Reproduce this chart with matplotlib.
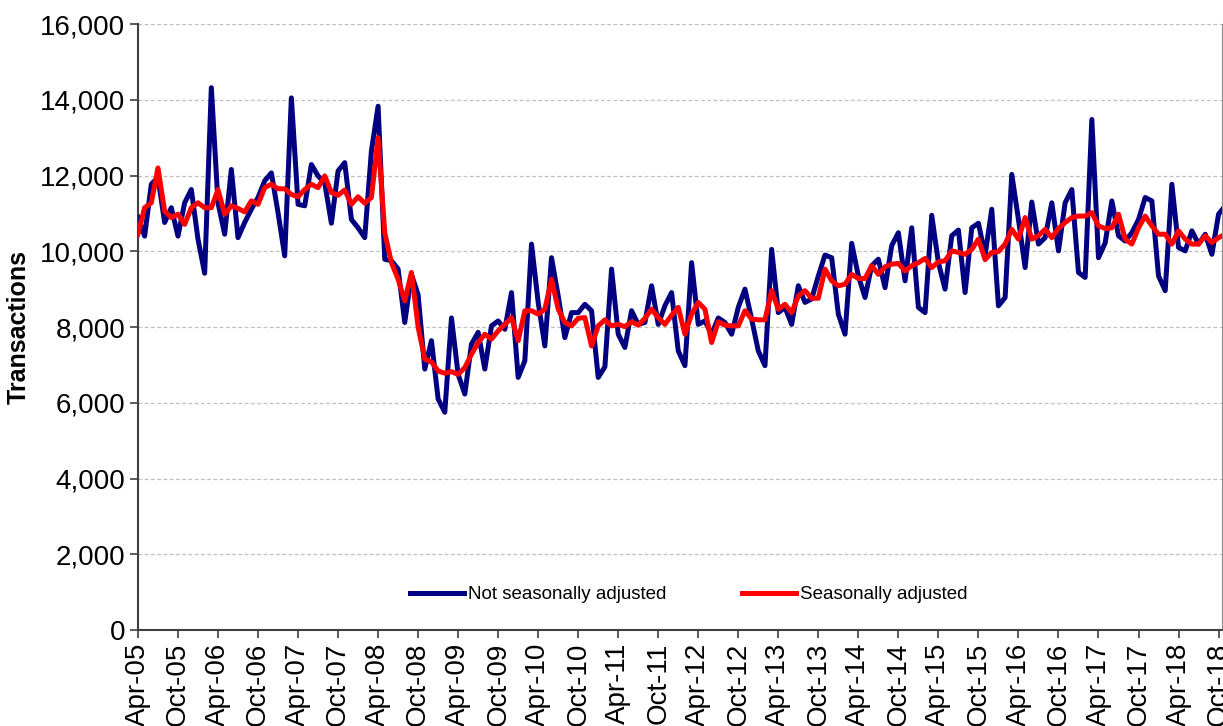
import matplotlib.pyplot as plt
import numpy as np

plt.rcParams['font.family'] = ['Liberation Sans', 'DejaVu Sans']

# monthly, Apr-05 onwards
not_sa = [10900, 10400, 11770, 11950, 10760, 11150, 10400, 11280, 11630, 10320,
          9420, 14320, 11280, 10450, 12160, 10360, 10760, 11110, 11420, 11860,
          12070, 11020, 9880, 14050, 11240, 11200, 12290, 11990, 11800, 10740,
          12120, 12340, 10840, 10620, 10360, 12650, 13830, 9790, 9750, 9530,
          8120, 9390, 8850, 6890, 7640, 6100, 5750, 8240, 6750, 6230,
          7550, 7860, 6890, 8030, 8160, 7940, 8910, 6670, 7110, 10190,
          8650, 7500, 9830, 8820, 7720, 8380, 8380, 8600, 8430, 6670,
          6950, 9530, 7810, 7460, 8430, 8070, 8120, 9090, 8070, 8560,
          8910, 7370, 6980, 9700, 8070, 8160, 7810, 8240, 8120, 7810,
          8520, 9000, 8210, 7370, 6980, 10050, 8380, 8520, 8070, 9090,
          8650, 8740, 9350, 9900, 9830, 8340, 7810, 10210, 9350, 8780,
          9620, 9790, 9040, 10150, 10490, 9220, 10620, 8520, 8380, 10950,
          9700, 9000, 10410, 10560, 8910, 10620, 10740, 9900, 11110, 8560,
          8780, 12030, 10840, 9570, 11300, 10190, 10360, 11280, 10010, 11280,
          11630, 9440, 9310, 13480, 9830, 10220, 11330, 10410, 10270, 10490,
          10840, 11420, 11330, 9350, 8960, 11770, 10100, 10010, 10540, 10190,
          10450, 9920, 10980, 11200]

sa = [10450, 11150, 11280, 12200, 11060, 10890, 10980, 10710, 11150, 11280,
      11150, 11150, 11630, 10980, 11200, 11130, 11040, 11330, 11240, 11680,
      11770, 11650, 11650, 11500, 11440, 11630, 11770, 11680, 11990, 11550,
      11480, 11620, 11240, 11440, 11270, 11420, 13000, 10490, 9700, 9260,
      8690, 9440, 8000, 7150, 7080, 6840, 6780, 6820, 6750, 6930,
      7280, 7590, 7810, 7680, 7900, 8070, 8250, 7640, 8430, 8430,
      8340, 8470, 9260, 8470, 8120, 8030, 8230, 8250, 7500, 8030,
      8190, 8030, 8070, 8010, 8140, 8050, 8230, 8470, 8250, 8070,
      8310, 8520, 7810, 8340, 8650, 8470, 7590, 8140, 8050, 8030,
      8030, 8430, 8210, 8190, 8190, 8960, 8470, 8600, 8380, 8820,
      8960, 8760, 8760, 9530, 9220, 9090, 9130, 9390, 9280, 9280,
      9620, 9390, 9590, 9660, 9680, 9480, 9620, 9700, 9810, 9570,
      9720, 9750, 10010, 9970, 9920, 10050, 10320, 9780, 9970, 9990,
      10190, 10580, 10320, 10890, 10320, 10410, 10580, 10360, 10600, 10760,
      10890, 10930, 10930, 11020, 10670, 10600, 10620, 10980, 10320, 10190,
      10620, 10930, 10670, 10450, 10450, 10190, 10540, 10320, 10190, 10190,
      10410, 10230, 10360, 10450]

tick_labels = ['Apr-05', 'Oct-05', 'Apr-06', 'Oct-06', 'Apr-07', 'Oct-07',
               'Apr-08', 'Oct-08', 'Apr-09', 'Oct-09', 'Apr-10', 'Oct-10',
               'Apr-11', 'Oct-11', 'Apr-12', 'Oct-12', 'Apr-13', 'Oct-13',
               'Apr-14', 'Oct-14', 'Apr-15', 'Oct-15', 'Apr-16', 'Oct-16',
               'Apr-17', 'Oct-17', 'Apr-18', 'Oct-18']

x = np.arange(len(not_sa))

fig = plt.figure(figsize=(12.23, 7.26), dpi=100)
ax = fig.add_axes([0.1128, 0.1322, 0.8863, 0.8347])

ax.plot(x, not_sa, color='#000080', lw=3.6, label='Not seasonally adjusted', zorder=3)
ax.plot(x, sa, color='#ff0000', lw=3.6, label='Seasonally adjusted', zorder=4)

ax.set_ylim(0, 16000)
ax.set_xlim(0, 162.5)
ax.set_yticks(range(0, 16001, 2000))
ax.set_yticklabels([f'{v:,}' for v in range(0, 16001, 2000)])
ax.set_xticks(np.arange(len(tick_labels)) * 6)
ax.set_xticklabels(tick_labels, rotation=90)
ax.tick_params(axis='both', labelsize=20, direction='out', length=6, width=1.2,
               color='#404040', pad=3)

ax.yaxis.grid(True, color='#c0c0c0', linestyle=(0, (3, 2)), linewidth=0.9)
ax.set_axisbelow(True)

for s in ['left', 'bottom']:
    ax.spines[s].set_color('#404040')
    ax.spines[s].set_linewidth(1.5)
ax.spines['top'].set_visible(False)
ax.spines['right'].set_color('#909090')

ax.set_ylabel('Transactions', fontsize=18, fontweight='bold', labelpad=7)

ax.legend(loc='center', bbox_to_anchor=(0.508, 0.058), ncol=2, frameon=False,
          fontsize=13.5, handlelength=2.9, handletextpad=0.2, columnspacing=4.0)

plt.savefig('out.png', dpi=100)
